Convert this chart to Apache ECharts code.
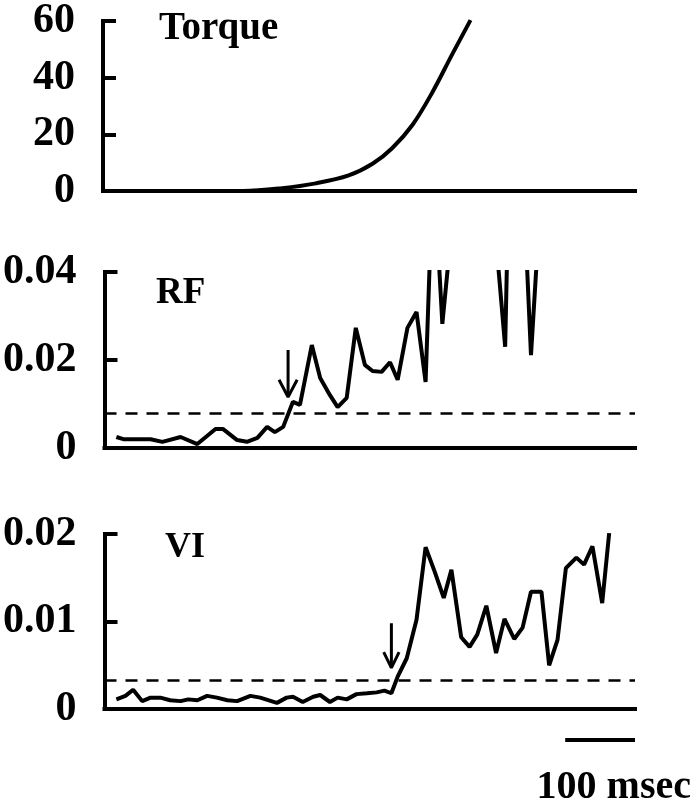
<!DOCTYPE html>
<html>
<head>
<meta charset="utf-8">
<script src="https://cdn.jsdelivr.net/npm/echarts@6/dist/echarts.min.js"></script>
<style>
html, body { margin: 0; padding: 0; background: #fff; }
#main { width: 695px; height: 805px; }
</style>
</head>
<body>
<div id="main"></div>
<script>
// time axis in msec (100 msec scale bar)
var torqueTime = [0, 200, 256, 304, 351, 385, 413, 442, 470, 499, 525];
var torqueVal = [0, 0, 1.0, 2.7, 5.5, 9.6, 15.1, 23.3, 34.6, 48.3, 60.3];

// RF trace; values above 0.04 run off the top of the panel
var rfTime = [17, 27, 41, 66, 83, 109, 133, 159, 170, 190, 204, 219, 233, 244, 256, 270, 280,
  297, 309, 323, 334, 347, 360, 373, 384, 397, 409, 420, 434, 447, 460, 471, 484, 497,
  510, 523, 536, 549, 561, 574, 587, 599, 611, 624, 637];
var rfVal = [0.0025, 0.0020, 0.0020, 0.0020, 0.0014, 0.0025, 0.0009, 0.0043, 0.0043, 0.0018,
  0.0014, 0.0023, 0.0048, 0.0036, 0.0048, 0.0105, 0.0098, 0.0234, 0.0159, 0.0120, 0.0093,
  0.0114, 0.0273, 0.0189, 0.0175, 0.0173, 0.0195, 0.0155, 0.0273, 0.0309, 0.0150, 0.0655,
  0.0282, 0.0495, 0.070, 0.080, 0.065, 0.075, 0.047, 0.0230, 0.120, 0.0636, 0.0211, 0.055, 0.070];

var viTime = [17, 30, 41, 54, 66, 80, 94, 109, 120, 133, 147, 161, 176, 190, 209, 223, 247,
  261, 270, 284, 299, 309, 323, 334, 347, 361, 376, 390, 401, 411, 420, 433, 447, 460, 473,
  486, 497, 511, 523, 534, 547, 561, 573, 587, 599, 611, 626, 637, 649, 661, 676, 687, 699,
  713, 723];
var viVal = [0.0011, 0.0015, 0.0022, 0.0009, 0.0013, 0.0013, 0.0010, 0.0009, 0.0011, 0.0010,
  0.0015, 0.0013, 0.0010, 0.0009, 0.0015, 0.0013, 0.0007, 0.0013, 0.0014, 0.0008, 0.0014,
  0.0016, 0.0008, 0.0013, 0.0011, 0.0017, 0.0018, 0.0019, 0.0021, 0.0018, 0.0037, 0.0058,
  0.0102, 0.0185, 0.0157, 0.0127, 0.0159, 0.0082, 0.0071, 0.0085, 0.0118, 0.0064, 0.0103,
  0.0080, 0.0093, 0.0134, 0.0134, 0.0050, 0.0079, 0.0161, 0.0173, 0.0165, 0.0186, 0.0121, 0.0201];

var torqueTicks = [0, 20, 40, 60];
var rfTicks = [0, 0.02, 0.04];
var viTicks = [0, 0.01, 0.02];

var rfThreshold = 0.008;
var viThreshold = 0.0033;

// onset arrows: time, top of shaft, tip, head width (msec), head height
var rfArrow = { t: 263, top: 0.0223, tip: 0.0116, hw: 13, hh: 0.0039 };
var viArrow = { t: 411, top: 0.0098, tip: 0.0047, hw: 11, hh: 0.0018 };

var timeMax = 760;
var scaleBar = [660, 760];

function zip(a, b) {
  return a.map(function (v, i) { return [v, b[i]]; });
}

var font = '"Liberation Serif", "DejaVu Serif", serif';

function yAxisFor(i, ticks) {
  return {
    type: 'value', gridIndex: i,
    min: ticks[0], max: ticks[ticks.length - 1], interval: ticks[1] - ticks[0],
    axisLine: { show: true, lineStyle: { color: '#000', width: 4, cap: 'square' } },
    axisTick: { show: true, inside: true, length: 13, lineStyle: { color: '#000', width: 4 } },
    axisLabel: { color: '#000', fontFamily: font, fontWeight: 'bold', fontSize: 42, margin: 28 },
    splitLine: { show: false }
  };
}

function xAxisFor(i) {
  return {
    type: 'value', gridIndex: i, min: 0, max: timeMax,
    axisLine: { show: true, onZero: false, lineStyle: { color: '#000', width: 4, cap: 'square' } },
    axisTick: { show: false },
    axisLabel: { show: false },
    splitLine: { show: false }
  };
}

function trace(i, data, width) {
  return {
    type: 'line', xAxisIndex: i, yAxisIndex: i, data: data,
    showSymbol: false, silent: true, clip: true,
    lineStyle: { color: '#000', width: width, join: 'bevel' }
  };
}

function threshold(v) {
  return {
    silent: true, symbol: 'none', precision: 6, label: { show: false },
    lineStyle: { color: '#000', width: 2.5, type: [12, 9] },
    data: [{ yAxis: v }]
  };
}

function arrowSeries(i, a) {
  return [
    trace(i, [[a.t, a.top], [a.t, a.tip]], 3),
    trace(i, [[a.t - a.hw, a.tip + a.hh], [a.t, a.tip], [a.t + a.hw, a.tip + a.hh]], 3)
  ];
}

var rfSeries = trace(1, zip(rfTime, rfVal), 4);
rfSeries.markLine = threshold(rfThreshold);
var viSeries = trace(2, zip(viTime, viVal), 4);
viSeries.markLine = threshold(viThreshold);
var torqueSeries = trace(0, zip(torqueTime, torqueVal), 4);
torqueSeries.smooth = 0.35;

var chart = echarts.init(document.getElementById('main'));
chart.setOption({
  animation: false,
  backgroundColor: '#fff',
  grid: [
    { left: 103, right: 60, top: 16, height: 175 },
    { left: 103, right: 60, top: 272, height: 176 },
    { left: 103, right: 60, top: 534, height: 175 }
  ],
  xAxis: [xAxisFor(0), xAxisFor(1), xAxisFor(2)],
  yAxis: [yAxisFor(0, torqueTicks), yAxisFor(1, rfTicks), yAxisFor(2, viTicks)],
  series: [torqueSeries, rfSeries, viSeries]
    .concat(arrowSeries(1, rfArrow))
    .concat(arrowSeries(2, viArrow))
});

function label(text, x, y, size, align) {
  return {
    type: 'text', x: x, y: y, silent: true,
    style: {
      text: text, fill: '#000', font: 'bold ' + size + 'px ' + font,
      textAlign: align, textVerticalAlign: 'middle', align: align, verticalAlign: 'middle'
    }
  };
}

var p0 = chart.convertToPixel({ gridIndex: 2 }, [scaleBar[0], 0]);
var p1 = chart.convertToPixel({ gridIndex: 2 }, [scaleBar[1], 0]);
var barY = p0[1] + 31;

chart.setOption({
  graphic: [
    label('Torque', 159, 29, 39, 'left'),
    label('RF', 156, 293, 37, 'left'),
    label('VI', 165, 548, 36, 'left'),
    label('100 msec', 691, 788, 40, 'right'),
    {
      type: 'line', silent: true,
      shape: { x1: p0[0], y1: barY, x2: p1[0], y2: barY },
      style: { stroke: '#000', lineWidth: 4 }
    }
  ]
});
</script>
</body>
</html>
